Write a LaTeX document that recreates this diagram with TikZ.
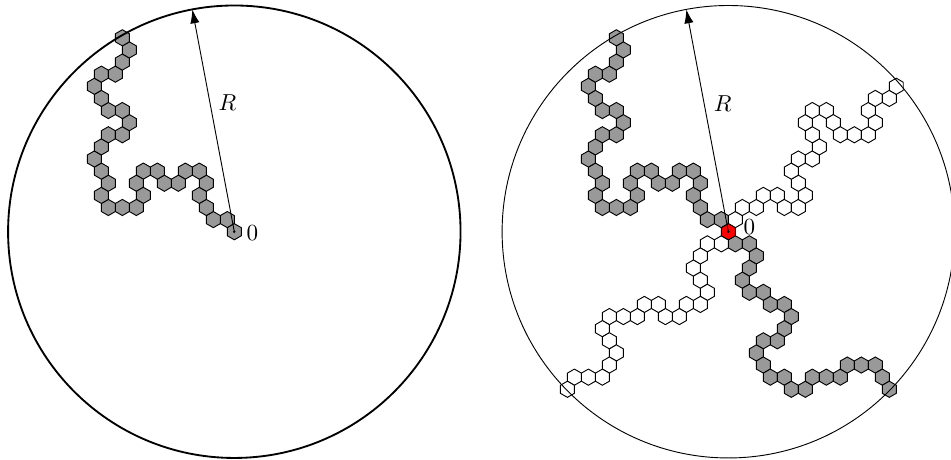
\documentclass[tikz,border=0pt]{standalone}
\usetikzlibrary{arrows.meta,positioning}
\definecolor{cellgray}{gray}{0.6}
\tikzset{
    hex/.pic = {
        \path[pic actions] (90:1) -- (150:1) -- (210:1) -- (270:1) -- (330:1) -- (30:1) -- cycle;
        },
    open cell/.style = {
        draw,
        fill = cellgray,
        },
    closed cell/.style = {
        draw,
        fill = white,
        },
    origin cell/.style = {
        draw,
        fill = red,
        },
    radius arrow/.style = {
        -{Latex[length=6pt,width=4pt]},
        },
}

\begin{document}
\begin{tikzpicture}[x=3.5pt, y=3.5pt]
    \useasboundingbox (-29,-28.13) rectangle (88.7,28.68);
    % one arm
    \begin{scope}
        \coordinate (OL) at (0,0);
        \foreach \h/\r in {-1/1,-3/1,-4/2,-5/3,-4/4,-5/5,-7/5,-8/4,-10/4,-11/5,-13/5,-14/4,-13/3,-14/2,-16/2,-18/2,-19/3,-18/4,-19/5,-20/6,-19/7,-18/8,-16/8,-15/9,-16/10,-18/10,-19/11,-20/12,-19/13,-17/13,-16/14,-15/15,-16/16}
            \pic[open cell] at ({(\h)*sqrt(3)/2},{1.5*(\r)}) {hex};
        \pic[open cell] at (OL) {hex};
        \draw[thick] (OL) circle (28);
        \coordinate (RL) at (100.7:28);
        \draw[radius arrow] (OL) -- (RL);
        \fill (OL) circle (0.6pt);
        \node (radL) at (93:16) {$R$};
        \node[right=1.8pt of OL, yshift=-0.7pt] (zeroL) {$0$};
    \end{scope}
    % four arms
    \begin{scope}[xshift=214pt]
        \coordinate (OR) at (0,0);
        \foreach \h/\r in {-1/1,-3/1,-4/2,-5/3,-4/4,-5/5,-7/5,-8/4,-10/4,-11/5,-13/5,-14/4,-13/3,-14/2,-16/2,-18/2,-19/3,-18/4,-19/5,-20/6,-19/7,-18/8,-16/8,-15/9,-16/10,-18/10,-19/11,-20/12,-19/13,-17/13,-16/14,-15/15,-16/16}
            \pic[open cell] at ({(\h)*sqrt(3)/2},{1.5*(\r)}) {hex};
        \foreach \h/\r in {1/-1,3/-1,4/-2,3/-3,2/-4,3/-5,5/-5,6/-6,8/-6,9/-7,8/-8,7/-9,5/-9,4/-10,5/-11,6/-12,8/-12,9/-13,11/-13,12/-12,14/-12,16/-12,17/-11,19/-11,21/-11,22/-12,23/-13}
            \pic[open cell] at ({(\h)*sqrt(3)/2},{1.5*(\r)}) {hex};
        \foreach \h/\r in {1/1,2/2,4/2,5/3,7/3,8/2,10/2,11/3,10/4,9/5,10/6,12/6,13/7,12/8,11/9,12/10,14/10,15/9,16/8,18/8,20/8,21/9,20/10,21/11,23/11,24/12}
            \pic[closed cell] at ({(\h)*sqrt(3)/2},{1.5*(\r)}) {hex};
        \foreach \h/\r in {-1/-1,-3/-1,-4/-2,-5/-3,-4/-4,-3/-5,-4/-6,-6/-6,-7/-7,-9/-7,-10/-6,-12/-6,-13/-7,-15/-7,-17/-7,-18/-8,-17/-9,-16/-10,-17/-11,-18/-12,-20/-12,-22/-12,-23/-13}
            \pic[closed cell] at ({(\h)*sqrt(3)/2},{1.5*(\r)}) {hex};
        \pic[origin cell] at (OR) {hex};
        \draw (OR) circle (28);
        \coordinate (RR) at (100.7:28);
        \draw[radius arrow] (OR) -- (RR);
        \fill (OR) circle (0.6pt);
        \node (radR) at (92.5:15.9) {$R$};
        \node[right=3.1pt of OR, yshift=1.9pt] (zeroR) {$0$};
    \end{scope}
\end{tikzpicture}
\end{document}
